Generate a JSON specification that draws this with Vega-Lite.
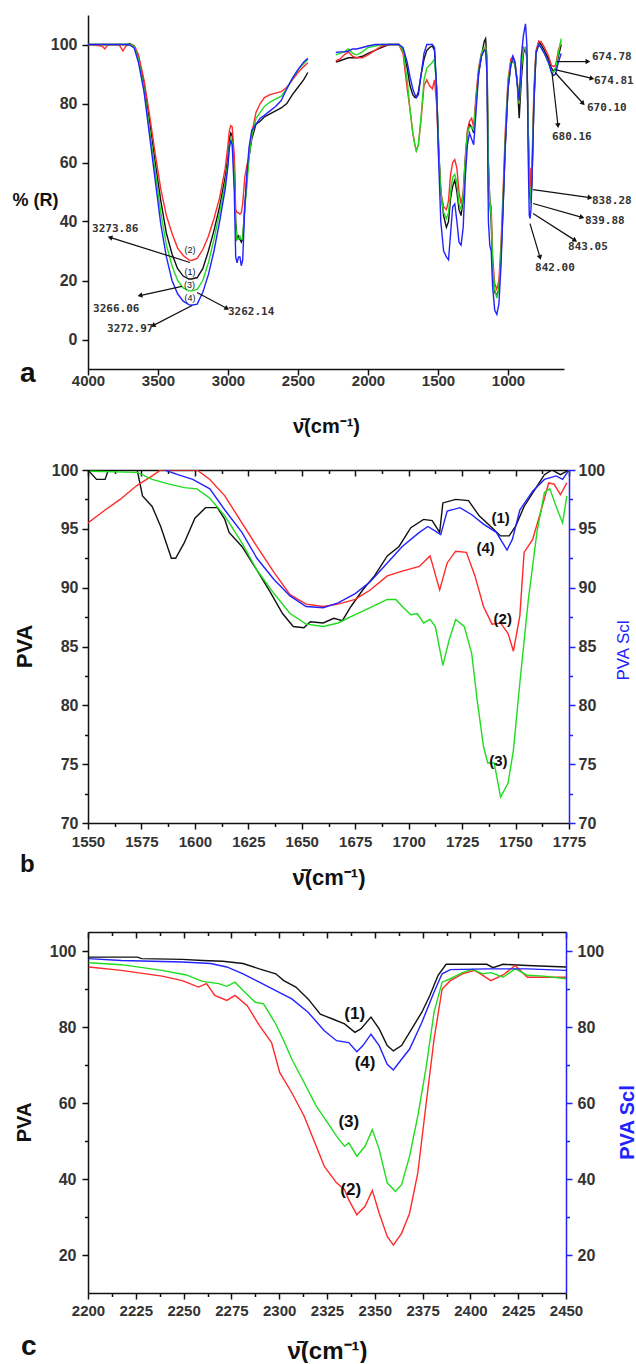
{
  "$schema": "https://vega.github.io/schema/vega-lite/v6.json",
  "padding": {"left": 12, "top": 15, "right": 0, "bottom": 0},
  "background": "white",
  "config": {
    "view": {"stroke": null},
    "axis": {"domainColor": "#111111", "tickColor": "#111111", "domainWidth": 1.5, "tickWidth": 1.5, "labelFont": "Liberation Sans", "labelFontWeight": "bold", "labelColor": "#333333", "titleFont": "Liberation Sans", "titleFontWeight": "bold", "titleColor": "#111111", "labelFlush": false, "labelOverlap": false, "grid": false}
  },
  "datasets": {
    "aw": [
      {"x":4000,"seg":1,"1":100,"2":100,"3":100,"4":100},
      {"x":3900,"seg":1,"1":100,"2":99.5,"3":100,"4":100},
      {"x":3880,"seg":1,"1":100,"2":98.5,"3":100,"4":100},
      {"x":3860,"seg":1,"1":100,"2":99.8,"3":100,"4":100},
      {"x":3780,"seg":1,"1":100,"2":100,"3":100,"4":100},
      {"x":3750,"seg":1,"1":100,"2":97.8,"3":100,"4":100},
      {"x":3730,"seg":1,"1":100,"2":99.5,"3":100,"4":100},
      {"x":3700,"seg":1,"1":100.3,"2":100,"3":100,"4":99.8},
      {"x":3670,"seg":1,"1":99.5,"2":99.6,"3":99.3,"4":98.8},
      {"x":3640,"seg":1,"1":96,"2":96.5,"3":95,"4":94},
      {"x":3600,"seg":1,"1":87,"2":88,"3":85,"4":84},
      {"x":3560,"seg":1,"1":74,"2":76,"3":71,"4":69},
      {"x":3520,"seg":1,"1":60,"2":63,"3":57,"4":54},
      {"x":3480,"seg":1,"1":47,"2":51,"3":43,"4":39},
      {"x":3440,"seg":1,"1":36,"2":42,"3":32,"4":28},
      {"x":3400,"seg":1,"1":29,"2":36,"3":25,"4":20},
      {"x":3360,"seg":1,"1":24,"2":31,"3":20,"4":15.5},
      {"x":3320,"seg":1,"1":21.5,"2":28.5,"3":17.5,"4":13},
      {"x":3280,"seg":1,"1":20.5,"2":27,"3":16.5,"4":11.8},
      {"x":3260,"seg":1,"1":20.5,"2":26.8,"3":16.5,"4":11.6},
      {"x":3220,"seg":1,"1":21,"2":27.5,"3":17,"4":12},
      {"x":3180,"seg":1,"1":24,"2":30.5,"3":20,"4":16},
      {"x":3140,"seg":1,"1":30,"2":35,"3":26,"4":22},
      {"x":3100,"seg":1,"1":37,"2":41,"3":34,"4":30},
      {"x":3060,"seg":1,"1":45,"2":48,"3":43,"4":40},
      {"x":3020,"seg":1,"1":55,"2":58,"3":53,"4":51},
      {"x":3000,"seg":1,"1":62,"2":66,"3":60,"4":59},
      {"x":2990,"seg":1,"1":68,"2":71,"3":66,"4":65},
      {"x":2980,"seg":1,"1":70,"2":72.5,"3":68,"4":67.5},
      {"x":2970,"seg":1,"1":69,"2":72,"3":67,"4":66},
      {"x":2955,"seg":1,"1":60,"2":62,"3":55,"4":50},
      {"x":2945,"seg":1,"1":40,"2":44,"3":38,"4":28},
      {"x":2935,"seg":1,"1":34,"2":43,"3":34,"4":26},
      {"x":2925,"seg":1,"1":35,"2":43,"3":34,"4":28},
      {"x":2915,"seg":1,"1":34,"2":42.5,"3":35,"4":28},
      {"x":2905,"seg":1,"1":33,"2":43,"3":34,"4":25},
      {"x":2895,"seg":1,"1":34,"2":46,"3":34,"4":27},
      {"x":2880,"seg":1,"1":45,"2":55,"3":45,"4":45},
      {"x":2865,"seg":1,"1":55,"2":59,"3":52,"4":56},
      {"x":2850,"seg":1,"1":62,"2":62,"3":62,"4":65},
      {"x":2830,"seg":1,"1":68,"2":70,"3":69,"4":71},
      {"x":2800,"seg":1,"1":73,"2":77,"3":75,"4":73},
      {"x":2770,"seg":1,"1":74,"2":80,"3":77,"4":75},
      {"x":2740,"seg":1,"1":75.5,"2":82,"3":79,"4":76},
      {"x":2700,"seg":1,"1":76.5,"2":83,"3":80.5,"4":77.5},
      {"x":2660,"seg":1,"1":77.5,"2":83.5,"3":81.5,"4":79},
      {"x":2620,"seg":1,"1":78.5,"2":84,"3":82.5,"4":81},
      {"x":2580,"seg":1,"1":80,"2":85.5,"3":85,"4":85},
      {"x":2540,"seg":1,"1":83,"2":88,"3":88.5,"4":88.5},
      {"x":2500,"seg":1,"1":85.5,"2":90.5,"3":91.5,"4":91.5},
      {"x":2460,"seg":1,"1":88,"2":92.5,"3":93.5,"4":94},
      {"x":2430,"seg":1,"1":90.5,"2":93.8,"3":95,"4":95.3},
      {"x":2230,"seg":2,"1":94,"2":94.5,"3":96.5,"4":97.3},
      {"x":2200,"seg":2,"1":94.5,"2":95,"3":97,"4":97.5},
      {"x":2170,"seg":2,"1":95,"2":96.5,"3":97.5,"4":97.5},
      {"x":2140,"seg":2,"1":95.5,"2":97.5,"3":98.5,"4":97.8},
      {"x":2110,"seg":2,"1":95.5,"2":96,"3":97,"4":98.5},
      {"x":2080,"seg":2,"1":95.5,"2":95.5,"3":96.5,"4":98.5},
      {"x":2040,"seg":2,"1":96,"2":95.5,"3":97.5,"4":99},
      {"x":2000,"seg":2,"1":97,"2":96.5,"3":99,"4":99.5},
      {"x":1950,"seg":2,"1":98,"2":98,"3":99.5,"4":100},
      {"x":1900,"seg":2,"1":99,"2":99.5,"3":100,"4":100},
      {"x":1850,"seg":2,"1":100,"2":100,"3":100,"4":100},
      {"x":1780,"seg":2,"1":100,"2":100,"3":100,"4":100},
      {"x":1750,"seg":2,"1":98,"2":97,"3":98,"4":99},
      {"x":1720,"seg":2,"1":92,"2":85,"3":88,"4":94},
      {"x":1700,"seg":2,"1":86,"2":78,"3":78,"4":89},
      {"x":1680,"seg":2,"1":83,"2":70,"3":70,"4":85},
      {"x":1665,"seg":2,"1":82,"2":66,"3":66,"4":83},
      {"x":1655,"seg":2,"1":82,"2":64,"3":64,"4":82},
      {"x":1640,"seg":2,"1":84,"2":66,"3":66,"4":83},
      {"x":1620,"seg":2,"1":90,"2":75,"3":76,"4":90},
      {"x":1600,"seg":2,"1":95,"2":86,"3":88,"4":97},
      {"x":1580,"seg":2,"1":98,"2":88,"3":92,"4":100},
      {"x":1560,"seg":2,"1":99,"2":86,"3":93,"4":100},
      {"x":1540,"seg":2,"1":99.5,"2":85,"3":94,"4":100},
      {"x":1525,"seg":2,"1":98,"2":88,"3":95,"4":99},
      {"x":1510,"seg":2,"1":85,"2":80,"3":85,"4":85},
      {"x":1495,"seg":2,"1":65,"2":62,"3":64,"4":60},
      {"x":1480,"seg":2,"1":50,"2":50,"3":50,"4":40},
      {"x":1460,"seg":2,"1":42,"2":45,"3":43,"4":30},
      {"x":1440,"seg":2,"1":38,"2":44,"3":41,"4":28},
      {"x":1425,"seg":2,"1":40,"2":47,"3":43,"4":27},
      {"x":1410,"seg":2,"1":48,"2":56,"3":50,"4":36},
      {"x":1395,"seg":2,"1":52,"2":60,"3":55,"4":45},
      {"x":1380,"seg":2,"1":54,"2":61,"3":56,"4":46},
      {"x":1365,"seg":2,"1":50,"2":58,"3":53,"4":40},
      {"x":1350,"seg":2,"1":44,"2":50,"3":46,"4":33},
      {"x":1335,"seg":2,"1":42,"2":46,"3":44,"4":32},
      {"x":1320,"seg":2,"1":48,"2":50,"3":49,"4":38},
      {"x":1305,"seg":2,"1":60,"2":62,"3":61,"4":55},
      {"x":1290,"seg":2,"1":70,"2":71,"3":70,"4":66},
      {"x":1275,"seg":2,"1":73,"2":74,"3":72,"4":70},
      {"x":1260,"seg":2,"1":72,"2":75,"3":72,"4":68},
      {"x":1245,"seg":2,"1":70,"2":72,"3":71,"4":66},
      {"x":1230,"seg":2,"1":80,"2":82,"3":80,"4":76},
      {"x":1210,"seg":2,"1":90,"2":92,"3":91,"4":90},
      {"x":1190,"seg":2,"1":96,"2":97,"3":97,"4":96},
      {"x":1170,"seg":2,"1":101,"2":98,"3":99,"4":98},
      {"x":1160,"seg":2,"1":102,"2":99,"3":99,"4":98},
      {"x":1150,"seg":2,"1":95,"2":92,"3":95,"4":90},
      {"x":1140,"seg":2,"1":60,"2":50,"3":58,"4":40},
      {"x":1130,"seg":2,"1":47,"2":47,"3":47,"4":32},
      {"x":1120,"seg":2,"1":40,"2":45,"3":42,"4":30},
      {"x":1110,"seg":2,"1":25,"2":28,"3":26,"4":18},
      {"x":1095,"seg":2,"1":16,"2":19,"3":17,"4":10},
      {"x":1080,"seg":2,"1":15,"2":17,"3":14,"4":8.5},
      {"x":1065,"seg":2,"1":17,"2":20,"3":17,"4":12},
      {"x":1050,"seg":2,"1":28,"2":32,"3":30,"4":25},
      {"x":1035,"seg":2,"1":45,"2":50,"3":48,"4":45},
      {"x":1020,"seg":2,"1":65,"2":70,"3":67,"4":65},
      {"x":1000,"seg":2,"1":85,"2":88,"3":87,"4":85},
      {"x":980,"seg":2,"1":93,"2":95,"3":94,"4":93},
      {"x":965,"seg":2,"1":95,"2":96,"3":95,"4":96},
      {"x":950,"seg":2,"1":93,"2":94,"3":93,"4":94},
      {"x":935,"seg":2,"1":88,"2":88,"3":88,"4":87},
      {"x":920,"seg":2,"1":75,"2":80,"3":80,"4":81},
      {"x":905,"seg":2,"1":88,"2":93,"3":92,"4":96},
      {"x":890,"seg":2,"1":97,"2":99,"3":98,"4":103},
      {"x":875,"seg":2,"1":99,"2":98,"3":99,"4":107},
      {"x":865,"seg":2,"1":96,"2":95,"3":97,"4":100},
      {"x":855,"seg":2,"1":70,"2":70,"3":68,"4":60},
      {"x":848,"seg":2,"1":52,"2":58,"3":52,"4":42},
      {"x":842,"seg":2,"1":48,"2":58,"3":50,"4":41},
      {"x":836,"seg":2,"1":47,"2":50,"3":46,"4":44},
      {"x":828,"seg":2,"1":55,"2":60,"3":58,"4":55},
      {"x":815,"seg":2,"1":80,"2":85,"3":82,"4":80},
      {"x":800,"seg":2,"1":97,"2":98,"3":97,"4":97},
      {"x":780,"seg":2,"1":101,"2":101,"3":100,"4":100},
      {"x":765,"seg":2,"1":100,"2":101,"3":99,"4":99},
      {"x":740,"seg":2,"1":98,"2":99,"3":97,"4":97},
      {"x":710,"seg":2,"1":95,"2":96,"3":93.5,"4":94},
      {"x":690,"seg":2,"1":92,"2":93,"3":91,"4":90.5},
      {"x":675,"seg":2,"1":91,"2":92.5,"3":90.5,"4":89.5},
      {"x":660,"seg":2,"1":92,"2":93,"3":92,"4":90},
      {"x":640,"seg":2,"1":96,"2":98,"3":97,"4":94},
      {"x":620,"seg":2,"1":100,"2":101,"3":102,"4":97}
    ],
    "aarr": [
      {"x":3271,"y":26.1,"x2":3843,"y2":34.6,"ang":286,"t":"3273.86","tx":3971,"ty":37.6},
      {"x":3329,"y":18,"x2":3629,"y2":14.9,"ang":258,"t":"3266.06","tx":3964,"ty":10.5},
      {"x":3221,"y":15.9,"x2":3007,"y2":10.5,"ang":118,"t":"3262.14","tx":3000,"ty":9.2},
      {"x":3257,"y":11.5,"x2":3536,"y2":4.7,"ang":243,"t":"3272.97","tx":3864,"ty":3.4},
      {"x":650,"y":94.2,"x2":429,"y2":94.2,"ang":90,"t":"674.78","tx":400,"ty":95.6},
      {"x":664,"y":91.5,"x2":400,"y2":88.5,"ang":104,"t":"674.81","tx":386,"ty":87.5},
      {"x":664,"y":90.5,"x2":464,"y2":80,"ang":138,"t":"670.10","tx":436,"ty":78.6},
      {"x":686,"y":90.5,"x2":643,"y2":72.5,"ang":174,"t":"680.16","tx":686,"ty":68.8},
      {"x":821,"y":50.8,"x2":414,"y2":48.1,"ang":98,"t":"838.28","tx":400,"ty":46.8},
      {"x":821,"y":46.1,"x2":471,"y2":41.4,"ang":106,"t":"839.88","tx":450,"ty":40.3},
      {"x":821,"y":42.7,"x2":521,"y2":33.6,"ang":123,"t":"843.05","tx":571,"ty":31.2},
      {"x":843,"y":39.3,"x2":771,"y2":27.8,"ang":164,"t":"842.00","tx":807,"ty":24.4}
    ],
    "alab": [
      {"x":3271,"y":30.5,"t":"(2)"},
      {"x":3271,"y":23,"t":"(1)"},
      {"x":3275,"y":18.6,"t":"(3)"},
      {"x":3271,"y":13.9,"t":"(4)"}
    ],
    "bd": [
      {"s":"1","x":1550,"y":100},{"s":"1","x":1554,"y":99.2},{"s":"1","x":1558,"y":99.2},{"s":"1","x":1559.5,"y":100},{"s":"1","x":1573,"y":100},{"s":"1","x":1575.5,"y":97.8},{"s":"1","x":1580,"y":96.9},{"s":"1","x":1584,"y":95.2},{"s":"1","x":1589,"y":92.5},{"s":"1","x":1591,"y":92.5},{"s":"1","x":1595,"y":93.8},{"s":"1","x":1600,"y":95.9},{"s":"1","x":1605,"y":96.8},{"s":"1","x":1610.5,"y":96.8},{"s":"1","x":1614,"y":95.8},{"s":"1","x":1616,"y":94.7},{"s":"1","x":1622,"y":93.5},{"s":"1","x":1629,"y":91.5},{"s":"1","x":1635,"y":89.7},{"s":"1","x":1641,"y":87.8},{"s":"1","x":1646,"y":86.7},{"s":"1","x":1651,"y":86.6},{"s":"1","x":1654,"y":87.1},{"s":"1","x":1660,"y":87},{"s":"1","x":1665,"y":87.4},{"s":"1","x":1669,"y":87.2},{"s":"1","x":1673,"y":88.4},{"s":"1","x":1678.5,"y":89.8},{"s":"1","x":1684,"y":91},{"s":"1","x":1690,"y":92.7},{"s":"1","x":1695.5,"y":93.5},{"s":"1","x":1701,"y":95.1},{"s":"1","x":1707,"y":95.8},{"s":"1","x":1711,"y":95.7},{"s":"1","x":1714.5,"y":94.7},{"s":"1","x":1716,"y":97.2},{"s":"1","x":1722,"y":97.5},{"s":"1","x":1728,"y":97.4},{"s":"1","x":1733,"y":96.1},{"s":"1","x":1739,"y":95.1},{"s":"1","x":1743,"y":94.4},{"s":"1","x":1747,"y":94.4},{"s":"1","x":1750,"y":95.2},{"s":"1","x":1754,"y":96.9},{"s":"1","x":1760,"y":98.6},{"s":"1","x":1763.5,"y":99.6},{"s":"1","x":1767,"y":100},{"s":"1","x":1771,"y":99.6},{"s":"1","x":1775,"y":100},
      {"s":"2","x":1550,"y":95.5},{"s":"2","x":1558,"y":96.6},{"s":"2","x":1565,"y":97.5},{"s":"2","x":1573,"y":98.7},{"s":"2","x":1580,"y":99.5},{"s":"2","x":1584,"y":100},{"s":"2","x":1601,"y":100},{"s":"2","x":1607,"y":99.2},{"s":"2","x":1614,"y":97.8},{"s":"2","x":1622,"y":95.5},{"s":"2","x":1629,"y":93.5},{"s":"2","x":1637,"y":91.3},{"s":"2","x":1644.5,"y":89.4},{"s":"2","x":1652,"y":88.6},{"s":"2","x":1660,"y":88.4},{"s":"2","x":1667,"y":88.6},{"s":"2","x":1675,"y":89},{"s":"2","x":1682,"y":89.8},{"s":"2","x":1690,"y":91},{"s":"2","x":1697,"y":91.4},{"s":"2","x":1705,"y":91.8},{"s":"2","x":1710,"y":92.7},{"s":"2","x":1714.5,"y":89.8},{"s":"2","x":1718,"y":92.1},{"s":"2","x":1722,"y":93.1},{"s":"2","x":1727,"y":93},{"s":"2","x":1731,"y":91},{"s":"2","x":1735,"y":88.4},{"s":"2","x":1739,"y":86.9},{"s":"2","x":1743,"y":87},{"s":"2","x":1746.5,"y":86.1},{"s":"2","x":1749,"y":84.6},{"s":"2","x":1752,"y":87.6},{"s":"2","x":1754,"y":93},{"s":"2","x":1758,"y":94.1},{"s":"2","x":1762,"y":96.6},{"s":"2","x":1765.5,"y":98.9},{"s":"2","x":1768,"y":98.8},{"s":"2","x":1771,"y":97.9},{"s":"2","x":1774,"y":98.9},
      {"s":"3","x":1551,"y":99.9},{"s":"3","x":1573,"y":99.8},{"s":"3","x":1580,"y":99.2},{"s":"3","x":1588,"y":98.8},{"s":"3","x":1595,"y":98.5},{"s":"3","x":1601,"y":98.4},{"s":"3","x":1607,"y":97.6},{"s":"3","x":1614,"y":96.1},{"s":"3","x":1622,"y":93.8},{"s":"3","x":1629,"y":91.5},{"s":"3","x":1637,"y":89.5},{"s":"3","x":1644.5,"y":87.8},{"s":"3","x":1652,"y":86.9},{"s":"3","x":1660,"y":86.7},{"s":"3","x":1667,"y":87},{"s":"3","x":1675,"y":87.7},{"s":"3","x":1682,"y":88.3},{"s":"3","x":1690,"y":89},{"s":"3","x":1694,"y":89},{"s":"3","x":1697,"y":88.4},{"s":"3","x":1701,"y":87.7},{"s":"3","x":1704,"y":87.8},{"s":"3","x":1707,"y":87},{"s":"3","x":1710,"y":87.3},{"s":"3","x":1712.5,"y":86.7},{"s":"3","x":1716,"y":83.4},{"s":"3","x":1719,"y":85.6},{"s":"3","x":1722,"y":87.3},{"s":"3","x":1726,"y":86.7},{"s":"3","x":1729.5,"y":84.4},{"s":"3","x":1732,"y":80.5},{"s":"3","x":1735,"y":76.5},{"s":"3","x":1737,"y":75.1},{"s":"3","x":1740,"y":75.1},{"s":"3","x":1743,"y":72.2},{"s":"3","x":1746.5,"y":73.4},{"s":"3","x":1749,"y":76.2},{"s":"3","x":1752,"y":81.9},{"s":"3","x":1756,"y":89},{"s":"3","x":1760,"y":94.7},{"s":"3","x":1763.5,"y":98.1},{"s":"3","x":1766,"y":98.4},{"s":"3","x":1770,"y":96.4},{"s":"3","x":1772,"y":95.5},{"s":"3","x":1774,"y":97.8},
      {"s":"4","x":1586,"y":100},{"s":"4","x":1592,"y":99.6},{"s":"4","x":1599,"y":99.2},{"s":"4","x":1607,"y":98.4},{"s":"4","x":1614,"y":96.6},{"s":"4","x":1622,"y":94.7},{"s":"4","x":1629,"y":92.5},{"s":"4","x":1637,"y":90.7},{"s":"4","x":1644.5,"y":89.3},{"s":"4","x":1652,"y":88.4},{"s":"4","x":1660,"y":88.3},{"s":"4","x":1667,"y":88.7},{"s":"4","x":1675,"y":89.5},{"s":"4","x":1682,"y":90.5},{"s":"4","x":1690,"y":92.1},{"s":"4","x":1697,"y":93.5},{"s":"4","x":1705,"y":94.7},{"s":"4","x":1709,"y":95.2},{"s":"4","x":1712.5,"y":94.8},{"s":"4","x":1715,"y":94.5},{"s":"4","x":1718,"y":96.5},{"s":"4","x":1724,"y":96.8},{"s":"4","x":1729.5,"y":96.2},{"s":"4","x":1735,"y":95.4},{"s":"4","x":1741,"y":94.7},{"s":"4","x":1746,"y":93.2},{"s":"4","x":1748.5,"y":94.1},{"s":"4","x":1752,"y":96.6},{"s":"4","x":1758,"y":98.2},{"s":"4","x":1763.5,"y":99.2},{"s":"4","x":1769,"y":99.5},{"s":"4","x":1772,"y":99.2},{"s":"4","x":1775,"y":100}
    ],
    "blab": [
      {"x":1743,"y":95.9,"t":"(1)"},{"x":1736,"y":93.4,"t":"(4)"},{"x":1744,"y":87.3,"t":"(2)"},{"x":1742,"y":75.3,"t":"(3)"}
    ],
    "cd": [
      {"s":"1","x":2200.4,"y":98.4},{"s":"1","x":2225.9,"y":98.4},{"s":"1","x":2228,"y":98},{"s":"1","x":2249.3,"y":97.8},{"s":"1","x":2259.9,"y":97.5},{"s":"1","x":2270.5,"y":97.3},{"s":"1","x":2281.1,"y":96.7},{"s":"1","x":2289.6,"y":95.3},{"s":"1","x":2298.2,"y":94},{"s":"1","x":2302.4,"y":92.2},{"s":"1","x":2308.7,"y":90.5},{"s":"1","x":2315.1,"y":87.4},{"s":"1","x":2321.5,"y":83.4},{"s":"1","x":2327.9,"y":82.1},{"s":"1","x":2334.2,"y":80.8},{"s":"1","x":2339.6,"y":78.6},{"s":"1","x":2342.7,"y":79.5},{"s":"1","x":2348,"y":82.6},{"s":"1","x":2352.3,"y":79.5},{"s":"1","x":2356.5,"y":75.1},{"s":"1","x":2359.7,"y":73.7},{"s":"1","x":2364,"y":75.1},{"s":"1","x":2368.2,"y":78.6},{"s":"1","x":2374.6,"y":83.9},{"s":"1","x":2378.8,"y":88.3},{"s":"1","x":2383.1,"y":93.6},{"s":"1","x":2387.3,"y":96.5},{"s":"1","x":2408.6,"y":96.5},{"s":"1","x":2411.8,"y":95.6},{"s":"1","x":2417.1,"y":96.5},{"s":"1","x":2429.8,"y":96.2},{"s":"1","x":2450,"y":95.8},
      {"s":"2","x":2200.4,"y":95.8},{"s":"2","x":2217.4,"y":94.9},{"s":"2","x":2238.7,"y":93.4},{"s":"2","x":2249.3,"y":92.2},{"s":"2","x":2257.8,"y":90.5},{"s":"2","x":2262,"y":91.4},{"s":"2","x":2266.3,"y":88.3},{"s":"2","x":2272.6,"y":87},{"s":"2","x":2276.9,"y":88.3},{"s":"2","x":2283.3,"y":85.6},{"s":"2","x":2289.6,"y":80.4},{"s":"2","x":2296,"y":75.9},{"s":"2","x":2300.3,"y":68},{"s":"2","x":2306.6,"y":62.7},{"s":"2","x":2313,"y":56.6},{"s":"2","x":2319.4,"y":48.6},{"s":"2","x":2323.6,"y":43.3},{"s":"2","x":2330,"y":39},{"s":"2","x":2334.2,"y":37.2},{"s":"2","x":2336.4,"y":34.5},{"s":"2","x":2340.6,"y":30.6},{"s":"2","x":2344.9,"y":32.8},{"s":"2","x":2348.7,"y":37},{"s":"2","x":2352.3,"y":31},{"s":"2","x":2356.5,"y":24.9},{"s":"2","x":2359.7,"y":22.6},{"s":"2","x":2364,"y":25.7},{"s":"2","x":2368.2,"y":31},{"s":"2","x":2372.5,"y":41.6},{"s":"2","x":2376.7,"y":59.2},{"s":"2","x":2381,"y":76.8},{"s":"2","x":2385.2,"y":90},{"s":"2","x":2389.5,"y":92.2},{"s":"2","x":2395.8,"y":94},{"s":"2","x":2402.2,"y":94.9},{"s":"2","x":2406.5,"y":93.6},{"s":"2","x":2410.7,"y":92.2},{"s":"2","x":2417.1,"y":93.7},{"s":"2","x":2423.4,"y":96.2},{"s":"2","x":2429.8,"y":93.1},{"s":"2","x":2438.3,"y":93.1},{"s":"2","x":2450,"y":93.1},
      {"s":"3","x":2200.4,"y":96.9},{"s":"3","x":2217.4,"y":96.4},{"s":"3","x":2238.7,"y":94.9},{"s":"3","x":2251.4,"y":93.7},{"s":"3","x":2259.9,"y":92},{"s":"3","x":2268.4,"y":91.4},{"s":"3","x":2272.6,"y":90.7},{"s":"3","x":2276.9,"y":91.8},{"s":"3","x":2281.1,"y":89.6},{"s":"3","x":2287.5,"y":86.5},{"s":"3","x":2291.8,"y":86.1},{"s":"3","x":2298.2,"y":80.8},{"s":"3","x":2302.4,"y":76.4},{"s":"3","x":2306.6,"y":71.5},{"s":"3","x":2313,"y":65.4},{"s":"3","x":2319.4,"y":59.2},{"s":"3","x":2323.6,"y":56.1},{"s":"3","x":2330,"y":51.3},{"s":"3","x":2334.2,"y":48.6},{"s":"3","x":2336.4,"y":49.5},{"s":"3","x":2340.6,"y":46},{"s":"3","x":2344.9,"y":48.6},{"s":"3","x":2348.7,"y":53},{"s":"3","x":2352.3,"y":47.8},{"s":"3","x":2356.5,"y":39},{"s":"3","x":2360.8,"y":36.7},{"s":"3","x":2364,"y":38.5},{"s":"3","x":2368.2,"y":46},{"s":"3","x":2372.5,"y":56.6},{"s":"3","x":2376.7,"y":68.9},{"s":"3","x":2381,"y":83.9},{"s":"3","x":2385.2,"y":91.8},{"s":"3","x":2389.5,"y":92.7},{"s":"3","x":2395.8,"y":94.3},{"s":"3","x":2401.1,"y":95.2},{"s":"3","x":2406.5,"y":94},{"s":"3","x":2410.7,"y":94.3},{"s":"3","x":2417.1,"y":93.1},{"s":"3","x":2423.4,"y":95.3},{"s":"3","x":2429.8,"y":93.6},{"s":"3","x":2438.3,"y":93.4},{"s":"3","x":2450,"y":92.7},
      {"s":"4","x":2200.4,"y":98},{"s":"4","x":2217.4,"y":97.5},{"s":"4","x":2249.3,"y":97.1},{"s":"4","x":2264.1,"y":96.7},{"s":"4","x":2272.6,"y":95.8},{"s":"4","x":2281.1,"y":94},{"s":"4","x":2289.6,"y":91.8},{"s":"4","x":2298.2,"y":89.6},{"s":"4","x":2306.6,"y":87.4},{"s":"4","x":2315.1,"y":83.9},{"s":"4","x":2323.6,"y":79},{"s":"4","x":2330,"y":76.4},{"s":"4","x":2336.4,"y":75.9},{"s":"4","x":2340.6,"y":73.5},{"s":"4","x":2343.8,"y":75.1},{"s":"4","x":2348,"y":78.1},{"s":"4","x":2352.3,"y":75.1},{"s":"4","x":2356.5,"y":70.2},{"s":"4","x":2359.7,"y":68.7},{"s":"4","x":2364,"y":71.5},{"s":"4","x":2368.2,"y":74.2},{"s":"4","x":2374.6,"y":81.2},{"s":"4","x":2381,"y":89.2},{"s":"4","x":2385.2,"y":94},{"s":"4","x":2389.5,"y":95.1},{"s":"4","x":2408.6,"y":95.3},{"s":"4","x":2429.8,"y":95.3},{"s":"4","x":2450,"y":94.9}
    ],
    "clab": [
      {"x":2339.5,"y":83.4,"t":"(1)"},{"x":2344.9,"y":70.5,"t":"(4)"},{"x":2336.4,"y":55,"t":"(3)"},{"x":2337.4,"y":37.2,"t":"(2)"}
    ]
  },
  "bounds": "flush",
  "spacing": 101,
  "vconcat": [
    {
      "width": 476,
      "height": 354,
      "title": {"text": "a", "orient": "bottom", "anchor": "start", "frame": "group", "dx": -68, "dy": -54, "offset": 0, "fontSize": 28, "font": "Liberation Sans", "fontWeight": "bold", "color": "#111111", "baseline": "alphabetic"},
      "layer": [
        {
          "data": {"name": "aw"},
          "transform": [{"fold": ["1", "2", "3", "4"], "as": ["s", "y"]}],
          "mark": {"type": "line", "strokeWidth": 1.4},
          "encoding": {
            "x": {"field": "x", "type": "quantitative", "scale": {"domain": [4000, 600], "nice": false, "zero": false},
              "axis": {"values": [4000,3750,3500,3250,3000,2750,2500,2250,2000,1750,1500,1250,1000,750], "format": "d", "labelExpr": "datum.value % 500 === 0 ? datum.label : ''", "tickSize": {"condition": {"test": "datum.value % 500 === 0", "value": 6}, "value": 4}, "labelFontSize": 15, "labelPadding": -2, "title": "ν̄(cm⁻¹)", "titleFontSize": 20, "titleY": 63, "titleBaseline": "alphabetic"}},
            "y": {"field": "y", "type": "quantitative", "scale": {"domain": [-10, 110], "nice": false, "zero": false},
              "axis": {"values": [0,10,20,30,40,50,60,70,80,90,100], "labelExpr": "datum.value % 20 === 0 ? datum.label : ''", "tickSize": {"condition": {"test": "datum.value % 20 === 0", "value": 6}, "value": 4}, "labelFontSize": 16, "labelPadding": 5, "title": "% (R)", "titleAngle": 0, "titleAlign": "left", "titleBaseline": "middle", "titleX": -76, "titleY": 185, "titleFontSize": 18}},
            "color": {"field": "s", "type": "nominal", "scale": {"domain": ["1", "2", "3", "4"], "range": ["#111111", "#ff2a2a", "#1fdc1f", "#2222ff"]}, "legend": null},
            "detail": {"field": "seg", "type": "nominal"}
          }
        },
        {
          "data": {"name": "aarr"},
          "mark": {"type": "rule", "color": "#111111", "strokeWidth": 1.2},
          "encoding": {"x": {"field": "x", "type": "quantitative"}, "y": {"field": "y", "type": "quantitative"}, "x2": {"field": "x2"}, "y2": {"field": "y2"}}
        },
        {
          "data": {"name": "aarr"},
          "mark": {"type": "point", "shape": "triangle-up", "filled": true, "color": "#111111", "size": 30, "opacity": 1},
          "encoding": {"x": {"field": "x2", "type": "quantitative"}, "y": {"field": "y2", "type": "quantitative"}, "angle": {"field": "ang", "type": "quantitative", "scale": null}}
        },
        {
          "data": {"name": "aarr"},
          "mark": {"type": "text", "align": "left", "baseline": "middle", "font": "DejaVu Sans Mono", "fontWeight": "bold", "fontSize": 11, "color": "#333333"},
          "encoding": {"x": {"field": "tx", "type": "quantitative"}, "y": {"field": "ty", "type": "quantitative"}, "text": {"field": "t"}}
        },
        {
          "data": {"name": "alab"},
          "mark": {"type": "text", "align": "center", "baseline": "middle", "font": "Liberation Sans", "fontSize": 9, "color": "#111111"},
          "encoding": {"x": {"field": "x", "type": "quantitative"}, "y": {"field": "y", "type": "quantitative"}, "text": {"field": "t"}}
        }
      ]
    },
    {
      "bounds": "flush",
      "spacing": 109,
      "vconcat": [
        {
          "width": 481,
          "height": 353,
          "title": {"text": "b", "orient": "bottom", "anchor": "start", "frame": "group", "dx": -68, "dy": -16, "offset": 0, "fontSize": 24, "font": "Liberation Sans", "fontWeight": "bold", "color": "#111111", "baseline": "alphabetic"},
          "resolve": {"axis": {"x": "independent", "y": "independent"}},
          "layer": [
            {
              "data": {"name": "bd"},
              "mark": {"type": "line", "strokeWidth": 1.4, "clip": true},
              "encoding": {
                "x": {"field": "x", "type": "quantitative", "scale": {"domain": [1550, 1775], "nice": false, "zero": false},
                  "axis": {"orient": "bottom", "values": [1550,1562.5,1575,1587.5,1600,1612.5,1625,1637.5,1650,1662.5,1675,1687.5,1700,1712.5,1725,1737.5,1750,1762.5,1775], "format": "d", "labelExpr": "datum.value % 25 === 0 ? datum.label : ''", "tickSize": {"condition": {"test": "datum.value % 25 === 0", "value": 6}, "value": 3.5}, "labelFontSize": 15, "labelPadding": 5, "title": "ν̄(cm⁻¹)", "titleFontSize": 22, "titleY": 61, "titleBaseline": "alphabetic"}},
                "y": {"field": "y", "type": "quantitative", "scale": {"domain": [70, 100], "nice": false, "zero": false},
                  "axis": {"orient": "left", "values": [70,72.5,75,77.5,80,82.5,85,87.5,90,92.5,95,97.5,100], "labelExpr": "datum.value % 5 === 0 ? datum.label : ''", "tickSize": {"condition": {"test": "datum.value % 5 === 0", "value": 6}, "value": 3.5}, "labelFontSize": 16, "labelPadding": 4, "title": "PVA", "titleFontSize": 22, "titleAngle": 270, "titleX": -57, "titleY": 176, "titleBaseline": "alphabetic"}},
                "color": {"field": "s", "type": "nominal", "scale": {"domain": ["1", "2", "3", "4"], "range": ["#111111", "#ff2a2a", "#1fdc1f", "#2222ff"]}, "legend": null}
              }
            },
            {
              "data": {"name": "blab"},
              "mark": {"type": "text", "align": "center", "baseline": "middle", "font": "Liberation Sans", "fontWeight": "bold", "fontSize": 15, "color": "#111111"},
              "encoding": {
                "x": {"field": "x", "type": "quantitative", "axis": {"orient": "top", "values": [1550,1562.5,1575,1587.5,1600,1612.5,1625,1637.5,1650,1662.5,1675,1687.5,1700,1712.5,1725,1737.5,1750,1762.5,1775], "labels": false, "title": null, "tickSize": {"condition": {"test": "datum.value % 25 === 0", "value": -6}, "value": -3.5}}},
                "y": {"field": "y", "type": "quantitative", "axis": {"orient": "right", "values": [70,72.5,75,77.5,80,82.5,85,87.5,90,92.5,95,97.5,100], "labelExpr": "datum.value % 5 === 0 ? datum.label : ''", "tickSize": {"condition": {"test": "datum.value % 5 === 0", "value": 6}, "value": 3.5}, "domainColor": "#2222ff", "tickColor": "#2222ff", "labelFontSize": 16, "labelPadding": 3, "title": "PVA Scl", "titleColor": "#2222ff", "titleFontSize": 17, "titleFontWeight": "normal", "titleAngle": 270, "titleX": 59, "titleY": 180, "titleBaseline": "alphabetic"}},
                "text": {"field": "t"}
              }
            }
          ]
        },
        {
          "width": 478,
          "height": 361,
          "title": {"text": "c", "orient": "bottom", "anchor": "start", "frame": "group", "dx": -67, "dy": -8, "offset": 0, "fontSize": 28, "font": "Liberation Sans", "fontWeight": "bold", "color": "#111111", "baseline": "alphabetic"},
          "resolve": {"axis": {"x": "independent", "y": "independent"}},
          "layer": [
            {
              "data": {"name": "cd"},
              "mark": {"type": "line", "strokeWidth": 1.4, "clip": true},
              "encoding": {
                "x": {"field": "x", "type": "quantitative", "scale": {"domain": [2200, 2450], "nice": false, "zero": false},
                  "axis": {"orient": "bottom", "values": [2200,2212.5,2225,2237.5,2250,2262.5,2275,2287.5,2300,2312.5,2325,2337.5,2350,2362.5,2375,2387.5,2400,2412.5,2425,2437.5,2450], "format": "d", "labelExpr": "datum.value % 25 === 0 ? datum.label : ''", "tickSize": {"condition": {"test": "datum.value % 25 === 0", "value": 6}, "value": 3.5}, "labelFontSize": 15, "labelPadding": 4, "title": "ν̄(cm⁻¹)", "titleFontSize": 24, "titleY": 65, "titleBaseline": "alphabetic"}},
                "y": {"field": "y", "type": "quantitative", "scale": {"domain": [10, 105], "nice": false, "zero": false},
                  "axis": {"orient": "left", "values": [20,30,40,50,60,70,80,90,100], "labelExpr": "datum.value % 20 === 0 ? datum.label : ''", "tickSize": {"condition": {"test": "datum.value % 20 === 0", "value": 6}, "value": 3.5}, "labelFontSize": 16, "labelPadding": 6, "title": "PVA", "titleFontSize": 20, "titleAngle": 270, "titleX": -58, "titleY": 190, "titleBaseline": "alphabetic"}},
                "color": {"field": "s", "type": "nominal", "scale": {"domain": ["1", "2", "3", "4"], "range": ["#111111", "#ff2a2a", "#1fdc1f", "#2222ff"]}, "legend": null}
              }
            },
            {
              "data": {"name": "clab"},
              "mark": {"type": "text", "align": "center", "baseline": "middle", "font": "Liberation Sans", "fontWeight": "bold", "fontSize": 17, "color": "#111111"},
              "encoding": {
                "x": {"field": "x", "type": "quantitative", "axis": {"orient": "top", "values": [2200,2212.5,2225,2237.5,2250,2262.5,2275,2287.5,2300,2312.5,2325,2337.5,2350,2362.5,2375,2387.5,2400,2412.5,2425,2437.5,2450], "labels": false, "title": null, "tickSize": {"condition": {"test": "datum.value % 25 === 0", "value": -6}, "value": -3.5}}},
                "y": {"field": "y", "type": "quantitative", "axis": {"orient": "right", "values": [20,30,40,50,60,70,80,90,100], "labelExpr": "datum.value % 20 === 0 ? datum.label : ''", "tickSize": {"condition": {"test": "datum.value % 20 === 0", "value": 6}, "value": 3.5}, "domainColor": "#2222ff", "tickColor": "#2222ff", "labelFontSize": 16, "labelPadding": 5, "title": "PVA Scl", "titleColor": "#2222ff", "titleFontSize": 20, "titleAngle": 270, "titleX": 67, "titleY": 190, "titleBaseline": "alphabetic"}},
                "text": {"field": "t"}
              }
            }
          ]
        }
      ]
    }
  ]
}
